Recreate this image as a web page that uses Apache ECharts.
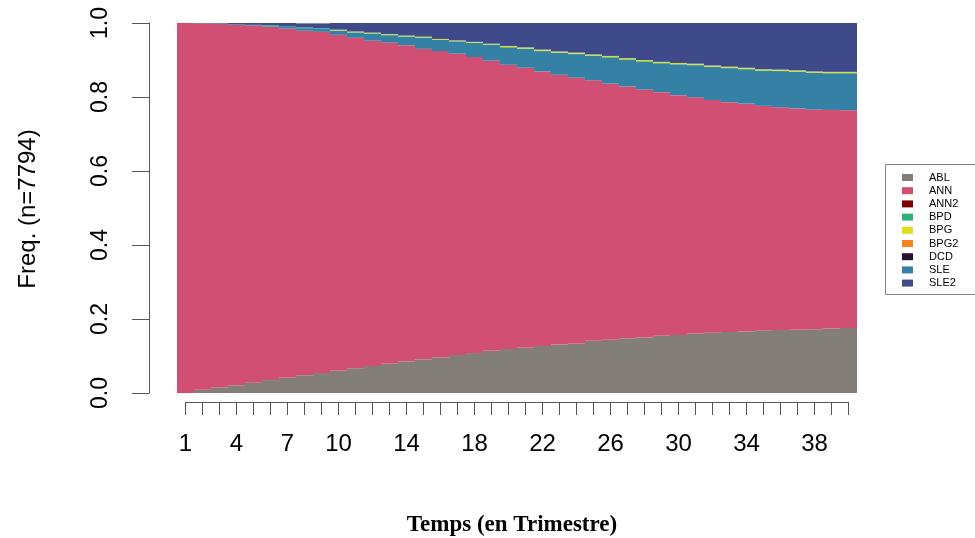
<!DOCTYPE html>
<html>
<head>
<meta charset="utf-8">
<script src="https://cdn.jsdelivr.net/npm/echarts@6/dist/echarts.min.js"></script>
<style>
html,body{margin:0;padding:0;background:#fff;overflow:hidden;}
#chart{width:975px;height:538px;}
</style>
</head>
<body>
<div id="chart"></div>
<script>
const categories = ['1','2','3','4','5','6','7','8','9','10','11','12','13','14','15','16','17','18','19','20',
  '21','22','23','24','25','26','27','28','29','30','31','32','33','34','35','36','37','38','39','40'];
const xTickLabels = ['1','4','7','10','14','18','22','26','30','34','38'];
const yTicks = ['0.0','0.2','0.4','0.6','0.8','1.0'];
const states = ['ABL','ANN','ANN2','BPD','BPG','BPG2','DCD','SLE','SLE2'];
const stateColors = ['#837F78','#D04F73','#7F0000','#2DB27D','#DEDE1B','#F5821F','#231434','#3581A6','#3E4A89'];

const ABL = [0,0.009,0.015,0.021,0.028,0.035,0.041,0.048,0.054,0.060,
  0.067,0.073,0.079,0.085,0.091,0.096,0.103,0.108,0.114,0.119,
  0.122,0.127,0.131,0.134,0.141,0.144,0.148,0.150,0.155,0.157,
  0.161,0.163,0.165,0.166,0.168,0.170,0.171,0.172,0.174,0.176];
const ANN = [1.000,0.990,0.982,0.974,0.965,0.954,0.944,0.931,0.922,0.908,
  0.893,0.879,0.868,0.855,0.839,0.828,0.814,0.800,0.784,0.768,
  0.757,0.742,0.729,0.718,0.704,0.692,0.680,0.670,0.658,0.648,
  0.638,0.629,0.621,0.616,0.608,0.602,0.598,0.594,0.591,0.588];
const ANN2 = [0,0,0,0,0,0,0,0,0,0, 0,0,0,0,0,0,0,0,0,0, 0,0,0,0,0,0,0,0,0,0, 0,0,0,0,0,0,0,0,0,0];
const BPD = [0,0,0,0,0,0.003,0,0.002,0.002,0.001,
  0.001,0.001,0.001,0.001,0.001,0.001,0.001,0.001,0.001,0.001,
  0.001,0.001,0.001,0.001,0.001,0.001,0.001,0.001,0.001,0.001,
  0.001,0.001,0.001,0.001,0.001,0.001,0.001,0.001,0.001,0.001];
const BPG = [0,0,0,0,0,0,0,0,0,0.002,
  0.002,0.002,0.002,0.002,0.002,0.002,0.002,0.002,0.002,0.003,
  0.003,0.003,0.003,0.003,0.003,0.003,0.003,0.003,0.003,0.003,
  0.003,0.003,0.003,0.003,0.003,0.003,0.003,0.003,0.003,0.003];
const BPG2 = [0,0,0,0,0,0,0,0,0,0, 0,0,0,0,0,0,0,0,0,0, 0,0,0,0,0,0,0,0,0,0, 0,0,0,0,0,0,0,0,0,0];
const DCD = [0,0,0,0,0,0,0,0,0,0, 0,0,0,0,0,0,0,0,0,0, 0,0,0,0,0,0,0,0,0,0, 0,0,0,0,0,0,0,0,0,0];
const SLE = [0,0.001,0.002,0.002,0.002,0.002,0.006,0.007,0.008,0.011,
  0.014,0.019,0.020,0.023,0.030,0.030,0.033,0.038,0.043,0.047,
  0.051,0.055,0.059,0.064,0.066,0.071,0.073,0.076,0.078,0.083,
  0.087,0.089,0.092,0.093,0.095,0.098,0.099,0.099,0.099,0.100];
const SLE2 = [0,0,0.001,0.003,0.005,0.006,0.009,0.011,0.013,0.018,
  0.023,0.027,0.031,0.034,0.037,0.043,0.047,0.051,0.056,0.062,
  0.067,0.073,0.078,0.081,0.086,0.090,0.096,0.101,0.106,0.109,
  0.111,0.116,0.119,0.122,0.126,0.127,0.129,0.131,0.132,0.132];

const dataByState = {ABL, ANN, ANN2, BPD, BPG, BPG2, DCD, SLE, SLE2};
// stacking order (bottom to top) as seen in the picture
const stackOrder = ['ABL','ANN','ANN2','SLE','BPD','BPG','BPG2','DCD','SLE2'];

const chart = echarts.init(document.getElementById('chart'), null, {renderer:'canvas'});
const axisColor = '#555';
const font = 'Liberation Sans, Arial, sans-serif';

const series = stackOrder.map(name => ({
  name: name,
  type: 'bar',
  stack: 'total',
  xAxisIndex: 0,
  yAxisIndex: 0,
  barWidth: '100%',
  barCategoryGap: '0%',
  itemStyle: {color: stateColors[states.indexOf(name)]},
  emphasis: {disabled: true},
  data: dataByState[name]
}));

chart.setOption({
  animation: false,
  grid: [
    {left: 177, right: 118, top: 23, bottom: 145},
    {left: 185.5, right: 126.5, top: 300, bottom: 136}
  ],
  legend: {
    data: states,
    orient: 'vertical',
    left: 885,
    top: 164,
    icon: 'rect',
    itemWidth: 11,
    itemHeight: 7,
    itemGap: 2.2,
    padding: [8, 4, 6, 17],
    borderWidth: 0,
    selectedMode: false,
    textStyle: {fontSize: 11, lineHeight: 11, color: '#000', fontFamily: font, padding: [0,0,0,11]}
  },
  xAxis: [
    {type: 'category', gridIndex: 0, data: categories, show: false, boundaryGap: true},
    {type: 'category', gridIndex: 1, data: categories, boundaryGap: false,
      axisLine: {show: true, lineStyle: {color: axisColor, width: 1}},
      axisTick: {show: true, length: 13, interval: 0, lineStyle: {color: axisColor}},
      axisLabel: {
        interval: (idx, val) => xTickLabels.indexOf(val) >= 0,
        fontSize: 24, color: '#000', fontFamily: font, margin: 30
      },
      splitLine: {show: false}
    }
  ],
  yAxis: [
    {type: 'value', gridIndex: 0, min: 0, max: 1, interval: 0.2, offset: 28,
      axisLine: {show: true, lineStyle: {color: axisColor}},
      axisTick: {show: true, length: 17, lineStyle: {color: axisColor}},
      axisLabel: {rotate: 90, fontSize: 23, color: '#000', fontFamily: font, margin: 37,
        formatter: v => yTicks[Math.round(v / 0.2)]},
      splitLine: {show: false}
    },
    {type: 'value', gridIndex: 1, show: false}
  ],
  graphic: [
    {type: 'rect', shape: {x: 885.5, y: 164.5, width: 200, height: 130},
      style: {fill: 'none', stroke: '#888', lineWidth: 1}, z: -1},
    {type: 'text', x: 28, y: 209, rotation: Math.PI / 2,
      style: {text: 'Freq. (n=7794)', fontSize: 24, fontFamily: font, fill: '#000',
        textAlign: 'center', textVerticalAlign: 'middle'}},
    {type: 'text', x: 512, y: 525,
      style: {text: 'Temps (en Trimestre)', fontSize: 23, fontWeight: 'bold',
        fontFamily: 'Liberation Serif, Times New Roman, serif', fill: '#000',
        textAlign: 'center', textVerticalAlign: 'middle'}}
  ],
  series: series
});
</script>
</body>
</html>
